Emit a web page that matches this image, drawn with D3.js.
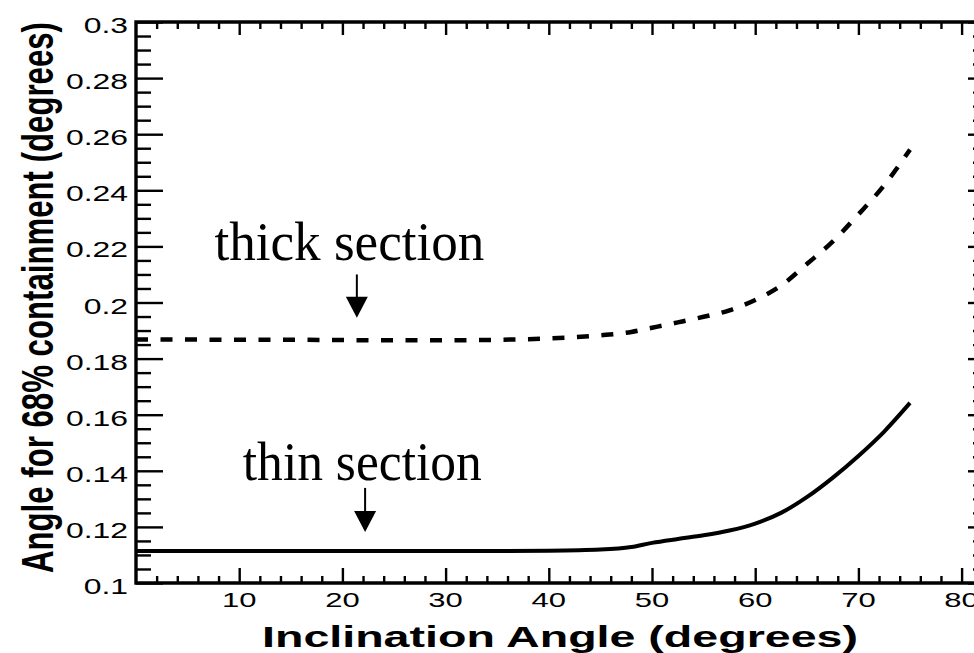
<!DOCTYPE html>
<html>
<head>
<meta charset="utf-8">
<script src="https://cdn.jsdelivr.net/npm/d3@7"></script>
<style>
  html, body { margin: 0; padding: 0; background: #fff; }
  svg { display: block; }
</style>
</head>
<body>
<svg id="chart" width="974" height="653"></svg>
<script>
// ---------- data ----------
const angles = [0, 5, 10, 15, 20, 25, 30, 35, 40, 45, 48, 50, 52.5, 55, 57.5, 60, 62.5, 65, 67.5, 70, 72.5, 75];
const thickSection = [0.1868, 0.1868, 0.1867, 0.1867, 0.1866, 0.1865, 0.1865, 0.1867, 0.1872, 0.1883, 0.1895, 0.1910, 0.1929, 0.1949, 0.1972, 0.2009, 0.2060, 0.2137, 0.2217, 0.2314, 0.2418, 0.2545];
const thinSection  = [0.1114, 0.1114, 0.1114, 0.1114, 0.1114, 0.1114, 0.1114, 0.1114, 0.1115, 0.1119, 0.1128, 0.1143, 0.1157, 0.1170, 0.1187, 0.1212, 0.1250, 0.1306, 0.1375, 0.1453, 0.1540, 0.1642];

const xMajorTicks = [10, 20, 30, 40, 50, 60, 70, 80];
const xTickLabels = ["10", "20", "30", "40", "50", "60", "70", "80"];
const yMajorTicks = [0.1, 0.12, 0.14, 0.16, 0.18, 0.2, 0.22, 0.24, 0.26, 0.28, 0.3];
const yTickLabels = ["0.1", "0.12", "0.14", "0.16", "0.18", "0.2", "0.22", "0.24", "0.26", "0.28", "0.3"];
const xTitle = "Inclination Angle (degrees)";
const yTitle = "Angle for 68% containment (degrees)";

// annotations (data coordinates)
const annotationLabels = ["thick section", "thin section"];
const annotationText = [[7.6, 0.2153], [10.35, 0.1368]];
const annotationArrow = [[21.4, 0.2100, 0.1946], [22.2, 0.1339, 0.1182]];

// ---------- layout ----------
const L = 136, R = 982, T = 22, B = 583;
const x = d3.scaleLinear().domain([0, 80]).range([L, 961.6]);
const y = d3.scaleLinear().domain([0.1, 0.3]).range([B, T]);

const svg = d3.select("#chart");
const sans = "'Liberation Sans', Arial, Helvetica, sans-serif";
const serif = "'Liberation Serif', 'Times New Roman', Times, serif";

const xMinor = d3.range(2, 81, 2).filter(v => v % 10 !== 0);
const yMinor = d3.range(0, 41).map(i => 0.1 + i * 0.005).filter(v => Math.abs(v * 50 - Math.round(v * 50)) > 1e-6);

function tickAxis(axisFn, scale, values, size, translate, width) {
  const g = svg.append("g").attr("transform", translate)
    .call(axisFn(scale).tickValues(values).tickSize(size).tickFormat(""));
  g.select(".domain").remove();
  g.selectAll("line").attr("stroke", "#000").attr("stroke-width", width);
  return g;
}
tickAxis(d3.axisBottom, x, xMajorTicks, -15, `translate(0,${B})`, 2.4);
tickAxis(d3.axisBottom, x, xMinor, -7, `translate(0,${B})`, 2.4);
tickAxis(d3.axisTop, x, xMajorTicks, -13, `translate(0,${T})`, 2.4);
tickAxis(d3.axisTop, x, xMinor, -7, `translate(0,${T})`, 2.4);
tickAxis(d3.axisLeft, y, yMajorTicks, -27, `translate(${L},0)`, 2.4);
tickAxis(d3.axisLeft, y, yMinor, -15, `translate(${L},0)`, 2.4);
tickAxis(d3.axisRight, y, yMajorTicks, -14, `translate(${R},0)`, 2.4);
tickAxis(d3.axisRight, y, yMinor, -9, `translate(${R},0)`, 2.4);

// frame
svg.append("path")
  .attr("d", `M${R},${T}H${L}V${B}H${R}`)
  .attr("fill", "none").attr("stroke", "#000").attr("stroke-width", 3.4);
svg.append("line").attr("x1", R).attr("x2", R).attr("y1", T).attr("y2", B)
  .attr("stroke", "#000").attr("stroke-width", 3.2);

// tick labels
svg.append("g").selectAll("text").data(xMajorTicks).join("text")
  .attr("transform", d => `translate(${x(d)},607) scale(1.55,1)`)
  .attr("text-anchor", "middle")
  .attr("font-family", sans).attr("font-size", 20)
  .text((d, i) => xTickLabels[i]);

svg.append("g").selectAll("text").data(yMajorTicks).join("text")
  .attr("transform", d => `translate(128,${y(d) + 11}) scale(1.45,1)`)
  .attr("text-anchor", "end")
  .attr("font-family", sans).attr("font-size", 22)
  .text((d, i) => yTickLabels[i]);

// axis titles
svg.append("text")
  .attr("x", 262).attr("y", 647)
  .attr("font-family", sans).attr("font-weight", "bold").attr("font-size", 30)
  .attr("textLength", 596).attr("lengthAdjust", "spacingAndGlyphs")
  .text(xTitle);

svg.append("text")
  .attr("transform", `translate(53,573) rotate(-90) scale(1,1.5)`)
  .attr("x", 0).attr("y", 0)
  .attr("font-family", sans).attr("font-weight", "bold").attr("font-size", 29)
  .attr("textLength", 551).attr("lengthAdjust", "spacingAndGlyphs")
  .text(yTitle);

// curves
const line = d3.line().x(d => x(d[0])).y(d => y(d[1])).curve(d3.curveMonotoneX);
svg.append("path")
  .attr("d", line(angles.map((a, i) => [a, thickSection[i]])))
  .attr("fill", "none").attr("stroke", "#000").attr("stroke-width", 4.5)
  .attr("stroke-dasharray", "12,12.5");
svg.append("path")
  .attr("d", line(angles.map((a, i) => [a, thinSection[i]])))
  .attr("fill", "none").attr("stroke", "#000").attr("stroke-width", 4)
  .attr("stroke-linejoin", "round");

// annotations
const annSizes = [55, 54];
const annLengths = [270, 239];
annotationLabels.forEach((lab, i) => {
  svg.append("text")
    .attr("x", x(annotationText[i][0])).attr("y", y(annotationText[i][1]))
    .attr("font-family", serif).attr("font-size", annSizes[i])
    .attr("textLength", annLengths[i]).attr("lengthAdjust", "spacingAndGlyphs")
    .text(lab);
  const ax = x(annotationArrow[i][0]);
  const top = y(annotationArrow[i][1]);
  const tip = y(annotationArrow[i][2]);
  svg.append("line").attr("x1", ax).attr("x2", ax).attr("y1", top).attr("y2", tip - 18)
    .attr("stroke", "#000").attr("stroke-width", 2);
  svg.append("path")
    .attr("d", `M${ax - 11},${tip - 21}L${ax + 11},${tip - 21}L${ax},${tip}Z`)
    .attr("fill", "#000");
});
</script>
</body>
</html>
